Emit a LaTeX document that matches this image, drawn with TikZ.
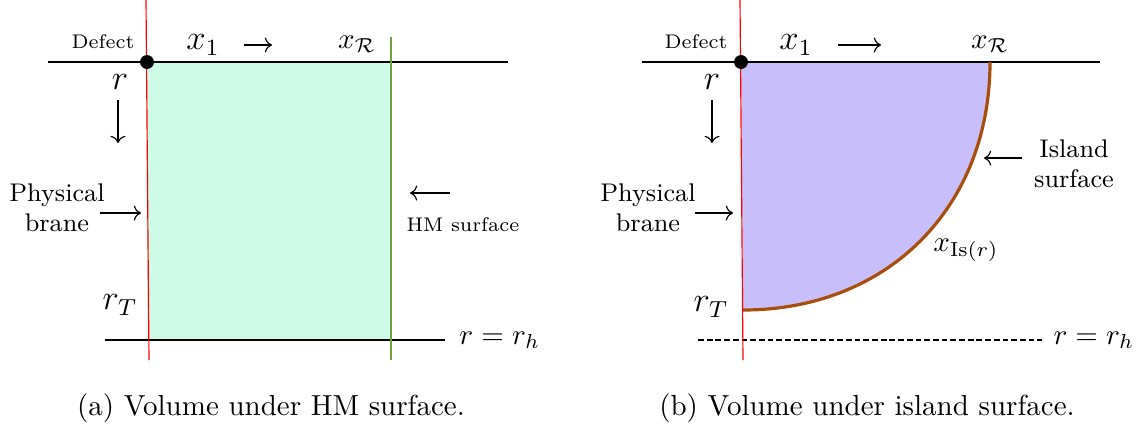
\documentclass[tikz,border=0pt]{standalone}
\usetikzlibrary{arrows.meta}

\definecolor{hmfill}{RGB}{205,251,231}
\definecolor{hmline}{RGB}{112,160,62}
\definecolor{isfill}{RGB}{200,190,250}
\definecolor{isline}{RGB}{168,78,12}

\begin{document}
\begin{tikzpicture}[
  x=0.3448pt, y=-0.3448pt,
  every node/.style={inner sep=1pt},
  kecil/.style={font=\fontsize{6.8}{8}\selectfont},
  sedang/.style={font=\fontsize{8.8}{10.4}\selectfont, align=center},
  besar/.style={font=\fontsize{11.5}{13}\selectfont},
  garis/.style={semithick, black},
  brane/.style={red, thin},
  titik/.style={circle, fill=black, inner sep=0pt, minimum size=4.8pt},
  panah/.style={-{Computer Modern Rightarrow}, thin}
]
\useasboundingbox (0,0) rectangle (1142,432);

% ---- (a) HM surface
\fill[hmfill] (147,62) rectangle (391,340);
\draw[garis] (48,62) -- (508,62);
\draw[garis] (105,340) -- (445,340);
\draw[hmline, semithick] (391,37) -- (391,360);
\draw[brane] (146,0) -- (149,360);
\node[titik] (defA) at (147,62) {};

\node[kecil]  (lblDefA) at (103,42) {Defect};
\node[besar]  (x1A)   at (203,45) {$x_1$};
\node         (xRA)   at (357,44) {$x_{\mathcal{R}}$};
\node[besar]  (rA)    at (120,82) {$r$};
\node[sedang] (braneA) at (57,208) {Physical\\brane};
\node[besar]  (rTA)   at (120,305) {$r_T$};
\node[kecil]  (hmA)   at (463,225) {HM surface};
\node[anchor=west] (rhA) at (456,340) {$r=r_h$};

\coordinate (a1) at (244,45);  \coordinate (a2) at (272,45);
\coordinate (a3) at (118,100); \coordinate (a4) at (118,143);
\coordinate (a5) at (100,213); \coordinate (a6) at (141,213);
\coordinate (a7) at (450,193); \coordinate (a8) at (410,193);
\draw[panah] (a1) -- (a2);
\draw[panah] (a3) -- (a4);
\draw[panah] (a5) -- (a6);
\draw[panah] (a7) -- (a8);

\node (capA) at (271,408) {(a) Volume under HM surface.};

% ---- (b) island surface
\fill[isfill] (741,62) -- (990,62) .. controls (990,207) and (888,310) .. (743,310) -- cycle;
\draw[garis] (642,62) -- (1100,62);
\draw[black, semithick, dash pattern=on 2pt off 1pt] (698,340) -- (1042,340);
\draw[isline, line width=1.1pt] (990,62) .. controls (990,207) and (888,310) .. (743,310);
\draw[brane] (740,0) -- (743,360);
\node[titik] (defB) at (741,62) {};

\node[kecil]  (lblDefB) at (696,42) {Defect};
\node[besar]  (x1B)   at (796,45) {$x_1$};
\node         (xRB)   at (990,44) {$x_{\mathcal{R}}$};
\node[besar]  (rB)    at (712,82) {$r$};
\node[sedang] (braneB) at (648,208) {Physical\\brane};
\node[besar]  (rTB)   at (711,307) {$r_T$};
\node[sedang] (isB)   at (1074,164) {Island\\surface};
\node         (xIsB)  at (966,250) {$x_{\mathrm{Is}(r)}$};
\node[anchor=west] (rhB) at (1050,340) {$r=r_h$};

\coordinate (b1) at (838,45);  \coordinate (b2) at (881,45);
\coordinate (b3) at (712,100); \coordinate (b4) at (712,143);
\coordinate (b5) at (695,213); \coordinate (b6) at (733,213);
\coordinate (b7) at (1022,158); \coordinate (b8) at (984,158);
\draw[panah] (b1) -- (b2);
\draw[panah] (b3) -- (b4);
\draw[panah] (b5) -- (b6);
\draw[panah] (b7) -- (b8);

\node (capB) at (867,408) {(b) Volume under island surface.};

\end{tikzpicture}
\end{document}
